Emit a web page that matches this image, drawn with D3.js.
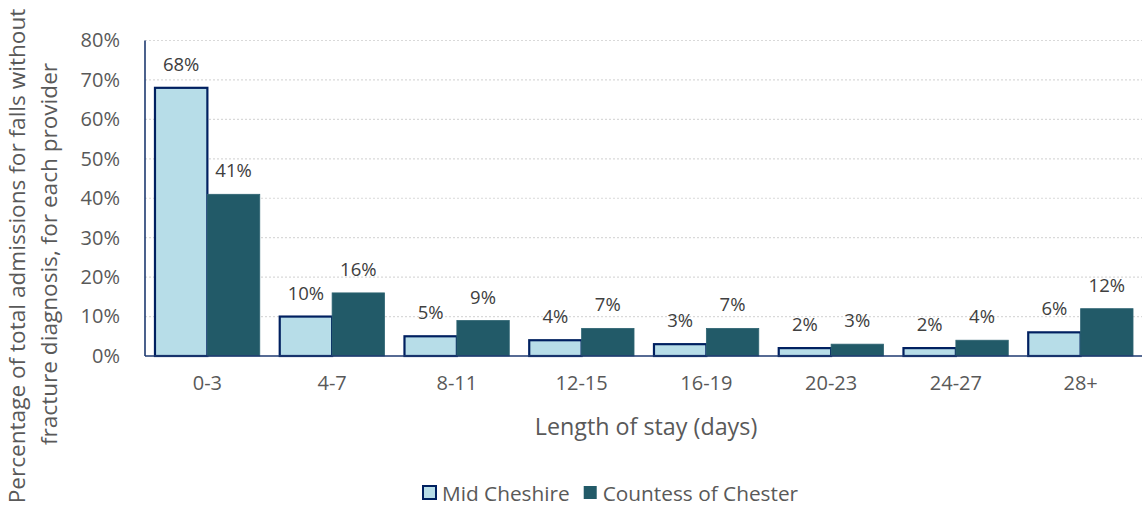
<!DOCTYPE html>
<html>
<head>
<meta charset="utf-8">
<script src="https://cdn.jsdelivr.net/npm/d3@7"></script>
<style>
  html, body { margin: 0; padding: 0; background: #fff; }
  svg { display: block; font-family: "Open Sans", "Noto Sans", sans-serif; }
</style>
</head>
<body>
<svg id="chart" width="1142" height="515"></svg>
<script>
// Length-of-stay bands
const categories = ["0-3", "4-7", "8-11", "12-15", "16-19", "20-23", "24-27", "28+"];
// Share of admissions (%) per provider
const midCheshire = [68, 10, 5, 4, 3, 2, 2, 6];
const countessOfChester = [41, 16, 9, 7, 7, 3, 4, 12];
const seriesNames = ["Mid Cheshire", "Countess of Chester"];
const yTicks = [0, 10, 20, 30, 40, 50, 60, 70, 80];

const series = [
  { name: seriesNames[0], values: midCheshire, fill: "#B7DDE8", stroke: "#002060", sw: 2.2 },
  { name: seriesNames[1], values: countessOfChester, fill: "#225A68", stroke: "#2E6472", sw: 0.8 }
];

const svg = d3.select("#chart");
const plotLeft = 145, plotRight = 1143, plotTop = 40.5, plotBottom = 356;

const y = d3.scaleLinear().domain([0, 80]).range([plotBottom, plotTop]);
const x0 = d3.scaleBand().domain(categories).range([plotLeft, plotRight]).paddingInner(0.16).paddingOuter(0.08);
const x1 = d3.scaleBand().domain(seriesNames).range([0, x0.bandwidth()]);

// dotted horizontal gridlines
svg.append("g").selectAll("line").data(yTicks.filter(t => t > 0)).join("line")
  .attr("x1", plotLeft).attr("x2", plotRight)
  .attr("y1", d => y(d)).attr("y2", d => y(d))
  .attr("stroke", "#D9D9D9").attr("stroke-width", 1.2).attr("stroke-dasharray", "2,2");

// y axis tick labels
const yAxis = d3.axisLeft(y).tickValues(yTicks).tickFormat(d => d + "%").tickSize(0).tickPadding(25);
const gy = svg.append("g").attr("transform", `translate(${plotLeft},0)`).call(yAxis);
gy.select(".domain").remove();
gy.selectAll("text").attr("fill", "#595959").style("font-size", "20px").style("font-family", "'Open Sans', sans-serif");

// bars
const groups = svg.append("g").selectAll("g").data(categories).join("g")
  .attr("transform", d => `translate(${x0(d)},0)`);

series.forEach(s => {
  groups.append("rect")
    .attr("x", x1(s.name))
    .attr("width", x1.bandwidth())
    .attr("y", d => y(s.values[categories.indexOf(d)]))
    .attr("height", d => plotBottom - y(s.values[categories.indexOf(d)]))
    .attr("fill", s.fill).attr("stroke", s.stroke).attr("stroke-width", s.sw);
  groups.append("text")
    .attr("x", x1(s.name) + x1.bandwidth() / 2)
    .attr("y", d => y(s.values[categories.indexOf(d)]) - 17)
    .attr("text-anchor", "middle")
    .attr("fill", "#404040").style("font-size", "18.5px")
    .text(d => s.values[categories.indexOf(d)] + "%");
});

// axis lines
svg.append("line").attr("x1", plotLeft).attr("x2", plotLeft).attr("y1", plotTop).attr("y2", plotBottom)
  .attr("stroke", "#1F3A70").attr("stroke-width", 1.6);
svg.append("line").attr("x1", plotLeft).attr("x2", plotRight).attr("y1", plotBottom).attr("y2", plotBottom)
  .attr("stroke", "#1F3A70").attr("stroke-width", 1.6);

// x axis category labels
const xAxis = d3.axisBottom(x0).tickSize(0).tickPadding(20);
const gx = svg.append("g").attr("transform", `translate(0,${plotBottom})`).call(xAxis);
gx.select(".domain").remove();
gx.selectAll("text").attr("fill", "#595959").style("font-size", "20px").style("font-family", "'Open Sans', sans-serif");

// axis titles
svg.append("text").attr("x", 646).attr("y", 435)
  .attr("text-anchor", "middle").attr("fill", "#595959").style("font-size", "23.3px")
  .text("Length of stay (days)");

const yTitle = svg.append("text").attr("transform", "translate(0,256) rotate(-90)")
  .attr("text-anchor", "middle").attr("fill", "#595959").style("font-size", "22.6px");
yTitle.append("tspan").attr("x", 0).attr("y", 25).text("Percentage of total admissions for falls without");
yTitle.append("tspan").attr("x", 2).attr("y", 57).text("fracture diagnosis, for each provider");

// legend
const legend = svg.append("g").attr("transform", "translate(422,486)");
let lx = 0;
series.forEach((s, i) => {
  const g = legend.append("g").attr("transform", `translate(${lx},0)`);
  g.append("rect").attr("x", 1).attr("y", 0).attr("width", 13).attr("height", 13)
    .attr("fill", s.fill).attr("stroke", i === 0 ? s.stroke : "none").attr("stroke-width", 2);
  const t = g.append("text").attr("x", 20).attr("y", 14.5).attr("fill", "#595959").style("font-size", "20.8px").text(s.name);
  lx += 20 + t.node().getComputedTextLength() + 13;
});
</script>
</body>
</html>
